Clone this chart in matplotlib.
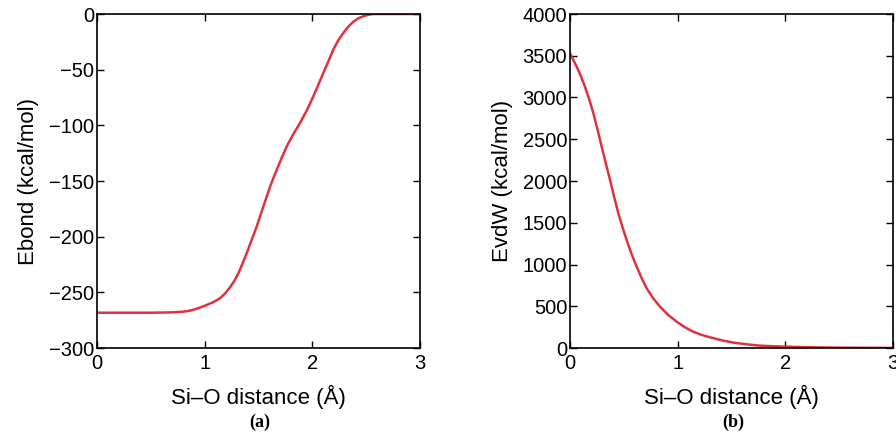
import matplotlib.pyplot as plt

# values
r_bond = [0.0, 0.5, 0.7, 0.8, 0.864, 0.94, 1.018, 1.08, 1.142, 1.19, 1.235, 1.275,
          1.313, 1.35, 1.39, 1.435, 1.483, 1.53, 1.576, 1.62, 1.669, 1.715, 1.762,
          1.82, 1.885, 1.95, 2.009, 2.055, 2.102, 2.15, 2.195, 2.24, 2.288, 2.335,
          2.38, 2.425, 2.473, 2.52, 2.566, 3.0]
e_bond = [-268.3, -268.3, -268, -267.4, -266.5, -264.3, -261.4, -258.8, -255.4, -251, -245.5, -239.8,
          -233, -224.5, -215, -203.3, -191, -177.3, -164, -151.8, -140, -129.3, -119,
          -108.5, -98, -86.3, -74, -63.8, -53, -42.3, -32, -23.8, -17, -11.3,
          -7, -4, -2, -0.7, 0, 0]

r_vdw = [0.0, 0.062, 0.1, 0.139, 0.178, 0.217, 0.255, 0.294, 0.333, 0.372, 0.41, 0.449,
         0.488, 0.526, 0.572, 0.619, 0.665, 0.712, 0.77, 0.836, 0.91, 0.991, 1.065,
         1.145, 1.22, 1.3, 1.41, 1.517, 1.64, 1.765, 1.89, 2.01, 2.15, 2.3, 2.6, 3.0]
e_vdw = [3529, 3369, 3260, 3129, 2980, 2811, 2620, 2411, 2210, 2012, 1810, 1613,
         1445, 1293, 1125, 974, 838, 715, 600, 495, 398, 315, 250,
         195, 158, 128, 92, 64, 44, 28, 21, 16, 11, 7, 3, 1]

plt.rcParams['font.family'] = ['Liberation Sans', 'DejaVu Sans']
red = '#e0323c'

fig = plt.figure(figsize=(8.96, 4.4), dpi=100)
ax1 = fig.add_axes([97/896, 92/440, 323/896, 334/440])
ax2 = fig.add_axes([570/896, 92/440, 323/896, 334/440])

ax1.plot(r_bond, e_bond, color=red, lw=1.8)
ax1.set_xlim(0, 3)
ax1.set_ylim(-300, 0)
ax1.set_yticks(range(-300, 1, 50))
ax1.set_ylabel("Ebond (kcal/mol)", fontsize=16, labelpad=7)

ax2.plot(r_vdw, e_vdw, color=red, lw=1.8)
ax2.set_xlim(0, 3)
ax2.set_ylim(0, 4000)
ax2.set_yticks(range(0, 4001, 500))
ax2.set_ylabel("EvdW (kcal/mol)", fontsize=16, labelpad=7)

for ax in (ax1, ax2):
    ax.set_xticks([0, 1, 2, 3])
    ax.set_xlabel("Si–O distance (Å)", fontsize=16, labelpad=9)
    ax.tick_params(axis='both', direction='in', top=True, right=True, length=5,
                   width=1, labelsize=14.5)
    ax.tick_params(axis='y', pad=2)
    ax.tick_params(axis='x', pad=4)
    for s in ax.spines.values():
        s.set_linewidth(1.2)

fig.text(260/896, 1 - 422/440, "(a)", ha='center', va='center',
         fontsize=13, fontweight='bold', family='Liberation Serif')
fig.text(733/896, 1 - 422/440, "(b)", ha='center', va='center',
         fontsize=13, fontweight='bold', family='Liberation Serif')

fig.savefig("out.png", dpi=100)
